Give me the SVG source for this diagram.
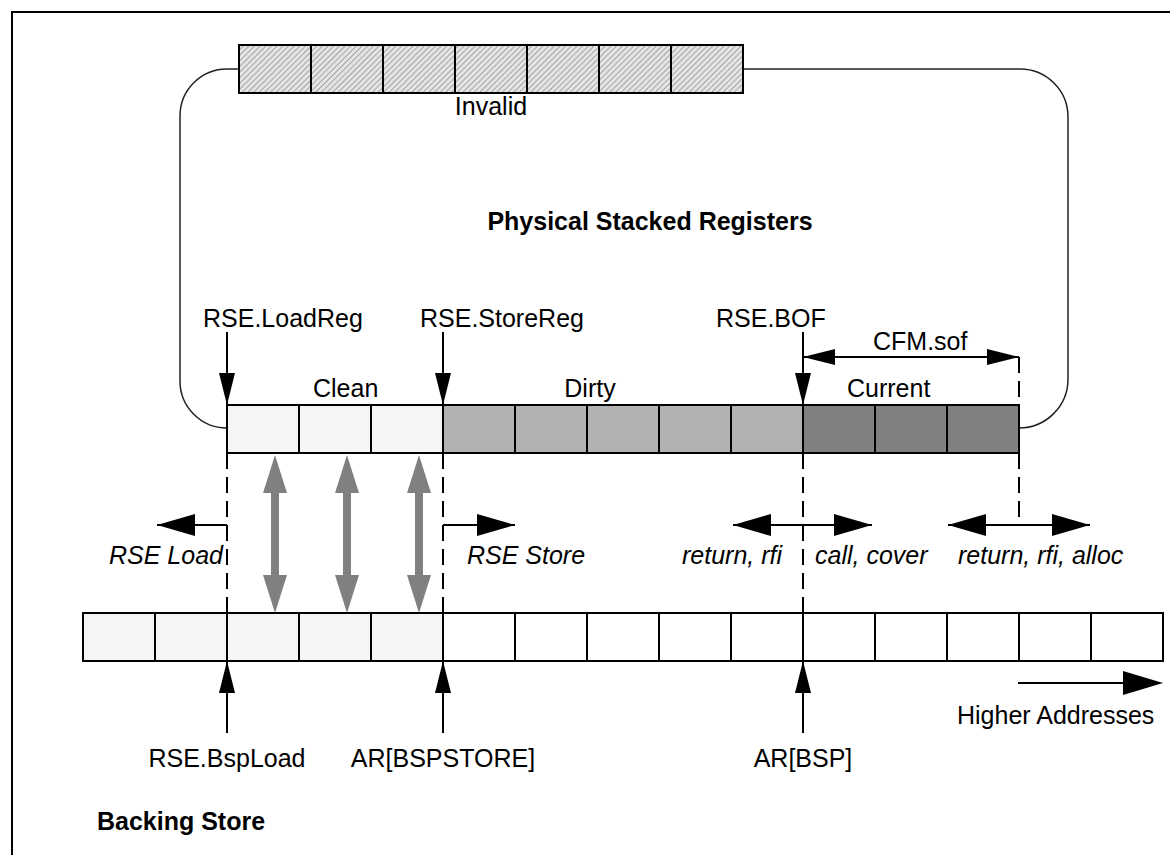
<svg xmlns="http://www.w3.org/2000/svg" width="1170" height="855" viewBox="0 0 1170 855">
<style>
text{font-family:"Liberation Sans",Arial,sans-serif;font-size:25px;fill:#000}
.b{font-weight:bold}
.i{font-style:italic}
.m{text-anchor:middle}
.cell{stroke:#000;stroke-width:2}
.hatch{fill:url(#hatch)}
.clean{fill:#f5f5f5}
.dirty{fill:#b2b2b2}
.cur{fill:#808080}
.white{fill:#fff}
.ln{stroke:#000;stroke-width:2;fill:none}
.dash{stroke:#000;stroke-width:2;stroke-dasharray:16 8;fill:none}
.loop{stroke:#222;stroke-width:1.5;fill:none}
.gray{fill:#808080}
.a1{marker-end:url(#ah)}
.a2{marker-end:url(#ahb)}
.d2{marker-start:url(#ahb);marker-end:url(#ahb)}
.d1{marker-start:url(#ah);marker-end:url(#ah)}
</style>
<defs>
<pattern id="hatch" width="4" height="4" patternUnits="userSpaceOnUse" patternTransform="rotate(45)">
<rect width="4" height="4" fill="#e4e4e4"/>
<line x1="0" y1="0" x2="0" y2="4" stroke="#8a8a8a" stroke-width="1.4"/>
</pattern>
<marker id="ah" markerUnits="userSpaceOnUse" markerWidth="32" markerHeight="16" refX="32" refY="8" orient="auto-start-reverse">
<path d="M0,0 L32,8 L0,16 z" fill="#000"/>
</marker>
<marker id="ahb" markerUnits="userSpaceOnUse" markerWidth="38" markerHeight="22" refX="38" refY="11" orient="auto-start-reverse">
<path d="M0,0 L38,11 L0,22 z" fill="#000"/>
</marker>
</defs>
<rect width="1170" height="855" fill="#fff"/>
<g id="frame">
<path class="ln" d="M12,855 V12 H1170" stroke-width="1.5"/>
</g>
<g id="connectors">
<path class="loop" d="M239,69 H227 A47,47 0 0 0 180,116 V381 A47,47 0 0 0 227,428"/>
<path class="loop" d="M1019,428 A49,49 0 0 0 1068,379 V117 A48,48 0 0 0 1020,69 H743"/>
<path class="dash" d="M227,453 V613"/>
<path class="dash" d="M443,453 V613"/>
<path class="dash" d="M803,453 V613"/>
<path class="dash" d="M1019,357 V525"/>
<path class="ln a1" d="M227,332 V405"/>
<path class="ln a1" d="M443,332 V405"/>
<path class="ln a1" d="M803,332 V405"/>
<path class="ln d1" d="M803,357 H1019"/>
<path class="ln a2" d="M227,525 H157"/>
<path class="ln a2" d="M443,525 H515"/>
<path class="ln d2" d="M733,525 H872"/>
<path class="ln d2" d="M948,525 H1090"/>
<path class="ln a1" d="M227,733 V661"/>
<path class="ln a1" d="M443,733 V661"/>
<path class="ln a1" d="M803,733 V661"/>
<path class="ln" d="M1018,683 H1125"/>
<path d="M1123,671 L1163,683 L1123,695 z" fill="#000"/>
<polygon class="gray" points="275,455 287,493 279,493 279,575 287,575 275,613 263,575 271,575 271,493 263,493"/>
<polygon class="gray" points="347,455 359,493 351,493 351,575 359,575 347,613 335,575 343,575 343,493 335,493"/>
<polygon class="gray" points="419,455 431,493 423,493 423,575 431,575 419,613 407,575 415,575 415,493 407,493"/>
</g>
<g id="invalid">
<rect class="cell hatch" x="239" y="45" width="72" height="48"/>
<rect class="cell hatch" x="311" y="45" width="72" height="48"/>
<rect class="cell hatch" x="383" y="45" width="72" height="48"/>
<rect class="cell hatch" x="455" y="45" width="72" height="48"/>
<rect class="cell hatch" x="527" y="45" width="72" height="48"/>
<rect class="cell hatch" x="599" y="45" width="72" height="48"/>
<rect class="cell hatch" x="671" y="45" width="72" height="48"/>
<text class="m" x="491" y="115">Invalid</text>
</g>
<g id="physical-stacked-registers">
<text class="b m" x="650" y="230">Physical Stacked Registers</text>
<rect class="cell clean" x="227" y="405" width="72" height="48"/>
<rect class="cell clean" x="299" y="405" width="72" height="48"/>
<rect class="cell clean" x="371" y="405" width="72" height="48"/>
<rect class="cell dirty" x="443" y="405" width="72" height="48"/>
<rect class="cell dirty" x="515" y="405" width="72" height="48"/>
<rect class="cell dirty" x="587" y="405" width="72" height="48"/>
<rect class="cell dirty" x="659" y="405" width="72" height="48"/>
<rect class="cell dirty" x="731" y="405" width="72" height="48"/>
<rect class="cell cur" x="803" y="405" width="72" height="48"/>
<rect class="cell cur" x="875" y="405" width="72" height="48"/>
<rect class="cell cur" x="947" y="405" width="72" height="48"/>
<text x="313" y="397">Clean</text>
<text class="m" x="590" y="397">Dirty</text>
<text x="847" y="397">Current</text>
</g>
<g id="pointers-top">
<text x="203" y="327">RSE.LoadReg</text>
<text x="420" y="327">RSE.StoreReg</text>
<text x="716" y="327">RSE.BOF</text>
<text x="873" y="350">CFM.sof</text>
</g>
<g id="operations">
<text class="i" x="109" y="564">RSE Load</text>
<text class="i" x="467" y="564">RSE Store</text>
<text class="i" x="682" y="564">return, rfi</text>
<text class="i" x="815" y="564">call, cover</text>
<text class="i" x="958" y="564">return, rfi, alloc</text>
</g>
<g id="backing-store">
<rect class="cell clean" x="83" y="613" width="72" height="48"/>
<rect class="cell clean" x="155" y="613" width="72" height="48"/>
<rect class="cell clean" x="227" y="613" width="72" height="48"/>
<rect class="cell clean" x="299" y="613" width="72" height="48"/>
<rect class="cell clean" x="371" y="613" width="72" height="48"/>
<rect class="cell white" x="443" y="613" width="72" height="48"/>
<rect class="cell white" x="515" y="613" width="72" height="48"/>
<rect class="cell white" x="587" y="613" width="72" height="48"/>
<rect class="cell white" x="659" y="613" width="72" height="48"/>
<rect class="cell white" x="731" y="613" width="72" height="48"/>
<rect class="cell white" x="803" y="613" width="72" height="48"/>
<rect class="cell white" x="875" y="613" width="72" height="48"/>
<rect class="cell white" x="947" y="613" width="72" height="48"/>
<rect class="cell white" x="1019" y="613" width="72" height="48"/>
<rect class="cell white" x="1091" y="613" width="72" height="48"/>
<text class="m" x="227" y="767">RSE.BspLoad</text>
<text class="m" x="443" y="767">AR[BSPSTORE]</text>
<text class="m" x="803" y="767">AR[BSP]</text>
<text x="957" y="724">Higher Addresses</text>
<text class="b" x="97" y="830">Backing Store</text>
</g>
</svg>
